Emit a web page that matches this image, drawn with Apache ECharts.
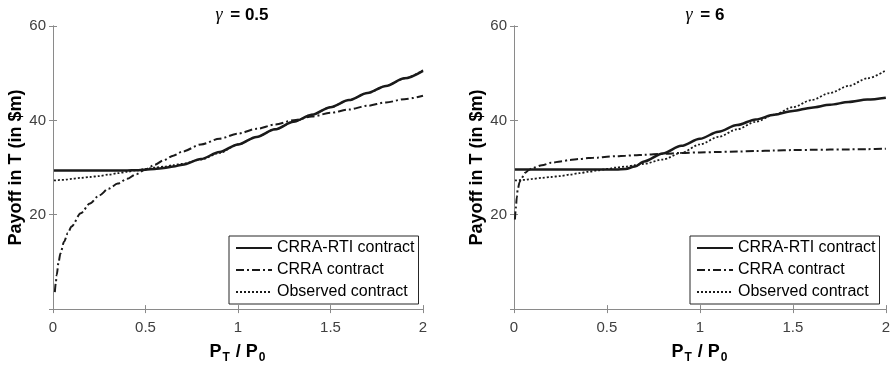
<!DOCTYPE html>
<html>
<head>
<meta charset="utf-8">
<script src="https://cdn.jsdelivr.net/npm/echarts@6/dist/echarts.min.js"></script>
<style>
  html, body { margin: 0; padding: 0; background: #fff; }
  #main { width: 893px; height: 369px; }
</style>
</head>
<body>
<div id="main"></div>
<script>
// price ratio grid P_T / P_0
const xGrid = [0.005, 0.01, 0.015, 0.02, 0.03, 0.04, 0.06, 0.08,
  0.1, 0.15, 0.2, 0.25, 0.3, 0.35, 0.4, 0.45,
  0.5, 0.55, 0.6, 0.65, 0.7,
  0.8, 0.9, 1.0,
  1.1, 1.2, 1.3, 1.4, 1.5, 1.6, 1.7, 1.8, 1.9, 2.0];

// gamma = 0.5
const rtiLow = [29.4, 29.4, 29.4, 29.4, 29.4, 29.4, 29.4, 29.4,
  29.4, 29.4, 29.4, 29.4, 29.4, 29.4, 29.4, 29.45,
  29.55, 29.7, 29.9, 30.2, 30.6,
  31.8, 33.3, 34.9,
  36.5, 38.1, 39.7, 41.2, 42.8, 44.3, 45.8, 47.3, 48.9, 50.5];
const crraLow = [null, 3.6, 5.5, 7.2, 9.9, 11.8, 14.3, 16.1,
  17.5, 20.3, 22.4, 24.1, 25.5, 26.6, 27.6, 28.6,
  29.6, 30.6, 31.6, 32.5, 33.4,
  34.9, 36.1, 37.2,
  38.2, 39.1, 40.0, 40.8, 41.6, 42.3, 43.1, 43.8, 44.5, 45.2];

// gamma = 6
const rtiHigh = [29.6, 29.6, 29.6, 29.6, 29.6, 29.6, 29.6, 29.6,
  29.6, 29.6, 29.6, 29.6, 29.6, 29.6, 29.6, 29.6,
  29.6, 29.6, 29.7, 30.2, 31.3,
  33.0, 34.6, 36.1,
  37.6, 39.0, 40.2, 41.2, 42.0, 42.7, 43.3, 43.9, 44.4, 44.8];
const crraHigh = [19.0, 21.5, 23.7, 25.3, 26.9, 27.7, 28.9, 29.5,
  29.9, 30.5, 31.0, 31.3, 31.6, 31.8, 32.0, 32.1,
  32.3, 32.4, 32.5, 32.6, 32.7,
  32.9, 33.1, 33.2,
  33.3, 33.4, 33.5, 33.6, 33.7, 33.75, 33.8, 33.85, 33.9, 34.0];

// observed contract (same in both panels)
const observed = [27.3, 27.3, 27.3, 27.35, 27.35, 27.4, 27.4, 27.5,
  27.6, 27.8, 28.0, 28.2, 28.5, 28.8, 29.1, 29.4,
  29.7, 30.0, 30.2, 30.5, 30.8,
  31.7, 33.1, 34.9,
  36.5, 38.1, 39.7, 41.2, 42.8, 44.3, 45.8, 47.3, 48.9, 50.6];

const seriesNames = ['CRRA-RTI contract', 'CRRA contract', 'Observed contract'];
const xTicks = { min: 0, max: 2, interval: 0.5 };
const yTicks = { min: 0, max: 60, interval: 20 };

const sans = 'Liberation Sans, Arial, sans-serif';
const axisGray = '#8a8a8a';
const ink = '#1a1a1a';

const pairs = arr => xGrid.map((x, i) => [x, arr[i]]);

function xAxes(grid) {
  return [{
    gridIndex: grid, type: 'value', position: 'bottom', ...xTicks,
    axisLine: { lineStyle: { color: axisGray, width: 1 } },
    axisTick: { inside: true, length: 4, lineStyle: { color: axisGray } },
    axisLabel: { color: '#404040', fontSize: 15, fontFamily: sans, margin: 11 },
    splitLine: { show: false },
    name: '{b|P}{s|T}{b| / P}{s|0}',
    nameLocation: 'middle', nameGap: 27,
    nameTextStyle: {
      rich: {
        b: { fontSize: 18, fontWeight: 'bold', fontFamily: sans, color: '#000', lineHeight: 20 },
        s: { fontSize: 12, fontWeight: 'bold', fontFamily: sans, color: '#000', lineHeight: 12, padding: [12, 1, 0, 1] }
      }
    }
  }, {
    gridIndex: grid, type: 'value', position: 'top', ...xTicks,
    axisLine: { lineStyle: { color: axisGray, width: 1 } },
    axisTick: { inside: true, length: 4, lineStyle: { color: axisGray } },
    axisLabel: { show: false },
    splitLine: { show: false }
  }];
}

function yAxes(grid) {
  return [{
    gridIndex: grid, type: 'value', position: 'left', ...yTicks,
    axisLine: { show: true, lineStyle: { color: axisGray, width: 1 } },
    axisTick: { show: true, inside: true, length: 4, lineStyle: { color: axisGray } },
    axisLabel: { color: '#404040', fontSize: 15, fontFamily: sans, margin: 7,
      formatter: v => (v === 0 ? '' : v) },
    splitLine: { show: false },
    name: 'Payoff in T (in $m)',
    nameLocation: 'middle', nameGap: 27,
    nameTextStyle: { fontSize: 18, fontWeight: 'bold', fontFamily: sans, color: '#000' }
  }, {
    gridIndex: grid, type: 'value', position: 'right', ...yTicks,
    axisLine: { show: true, lineStyle: { color: axisGray, width: 1 } },
    axisTick: { show: true, inside: true, length: 4, lineStyle: { color: axisGray } },
    axisLabel: { show: false },
    splitLine: { show: false }
  }];
}

function lines(grid, rti, crra) {
  const xi = grid * 2, yi = grid * 2;
  const base = { type: 'line', xAxisIndex: xi, yAxisIndex: yi, symbol: 'none',
    smooth: 0.3, smoothMonotone: 'x', animation: false };
  // solid curve on top so the dotted one hides beneath it where they coincide
  return [
    { ...base, name: seriesNames[0], data: pairs(rti), z: 4,
      lineStyle: { color: ink, width: 2.5, type: 'solid' }, itemStyle: { color: ink } },
    { ...base, name: seriesNames[1], data: pairs(crra), z: 3,
      lineStyle: { color: ink, width: 2, type: [8, 3, 2, 3] }, itemStyle: { color: ink } },
    { ...base, name: seriesNames[2], data: pairs(observed), z: 2,
      lineStyle: { color: ink, width: 1.8, type: [2, 2] }, itemStyle: { color: ink } }
  ];
}

function legendAt(left) {
  return {
    data: seriesNames, left: left, top: 236, orient: 'vertical',
    selectedMode: false,
    itemWidth: 36, itemHeight: 14, itemGap: 6,
    padding: [4, 4, 4, 6],
    itemStyle: { opacity: 0 },
    borderColor: '#262626', borderWidth: 1, backgroundColor: '#fff',
    textStyle: { color: '#000', fontSize: 16, fontFamily: sans }
  };
}

function titleAt(left, value) {
  return {
    left: left, top: 1, textAlign: 'center',
    text: '{g|γ}{b| = ' + value + '}',
    textStyle: {
      rich: {
        g: { fontFamily: 'Liberation Serif, serif', fontStyle: 'italic', fontWeight: 'normal', fontSize: 18, color: '#000', padding: [0, 3, 0, 0] },
        b: { fontFamily: sans, fontWeight: 'bold', fontSize: 17, color: '#000' }
      }
    }
  };
}

const chart = echarts.init(document.getElementById('main'));
chart.setOption({
  backgroundColor: '#fff',
  animation: false,
  title: [titleAt(237, '0.5'), titleAt(700, '6')],
  grid: [
    { left: 53, top: 26, width: 370, height: 286 },
    { left: 514, top: 26, width: 372, height: 286 }
  ],
  xAxis: [...xAxes(0), ...xAxes(1)],
  yAxis: [...yAxes(0), ...yAxes(1)],
  legend: [legendAt(229), legendAt(690)],
  series: [...lines(0, rtiLow, crraLow), ...lines(1, rtiHigh, crraHigh)]
});
</script>
</body>
</html>
